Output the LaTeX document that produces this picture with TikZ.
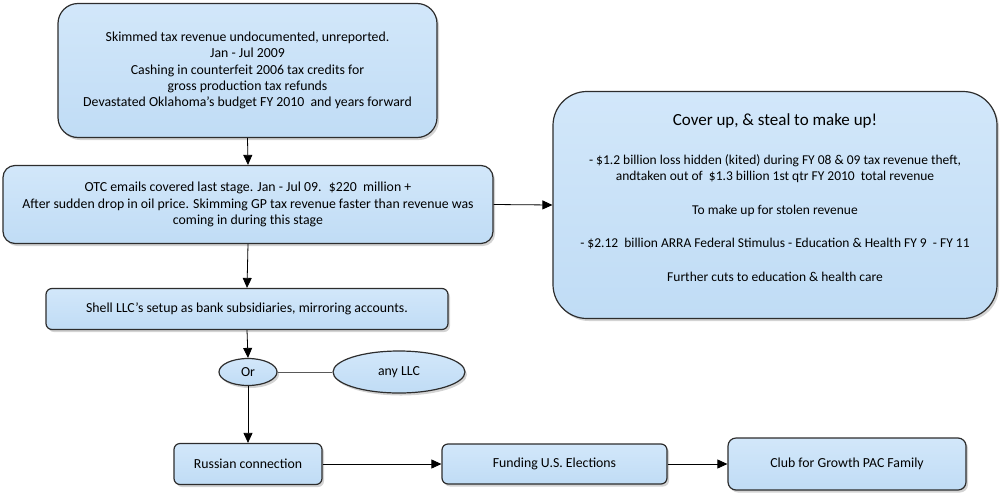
\documentclass[tikz,border=0pt]{standalone}
\usepackage{fontspec}
\setmainfont{Carlito}
\usetikzlibrary{shapes.geometric,shadows,arrows.meta}
\definecolor{boxtop}{RGB}{210,231,250}
\definecolor{boxbot}{RGB}{192,220,245}
\definecolor{boxline}{RGB}{45,45,45}
\tikzset{
  flowbox/.style={draw=boxline, line width=1.2pt, top color=boxtop, bottom color=boxbot,
    align=center, inner sep=2pt, font=\fontsize{13.8}{16.4}\selectfont, text=black,
    drop shadow={shadow xshift=2pt, shadow yshift=-2.5pt, opacity=0.35}},
  flowell/.style={flowbox, ellipse},
  flowarrow/.style={line width=0.8pt, -{Triangle[length=10pt,width=9pt]}},
  plainline/.style={line width=0.8pt, draw=black!65}
}
\begin{document}
\begin{tikzpicture}[x=1pt,y=-1pt]
\useasboundingbox (0,0) rectangle (1000,493);
\node[flowbox, rounded corners=20pt, minimum width=379pt, minimum height=134pt] (b1) at (247.5,70.5)
  {Skimmed tax revenue undocumented, unreported.\\
   Jan - Jul 2009\\
   Cashing in counterfeit 2006 tax credits for\\
   gross production tax refunds\\
   Devastated Oklahoma's budget FY 2010 \ and years forward};
\node[flowbox, rounded corners=12pt, minimum width=490pt, minimum height=78pt] (b2) at (248,204.5)
  {OTC emails covered last stage. Jan - Jul 09. \ \$220 \ million +\\
   After sudden drop in oil price. Skimming GP tax revenue faster than revenue was\\
   coming in during this stage};
\node[flowbox, rounded corners=6pt, minimum width=402pt, minimum height=41pt] (b3) at (247,309)
  {Shell LLC's setup as bank subsidiaries, mirroring accounts.};
\node[flowell, minimum width=58pt, minimum height=27pt, inner sep=0pt] (or) at (248,372) {Or};
\node[flowell, minimum width=132pt, minimum height=42pt, inner sep=0pt] (llc) at (399,372) {any LLC};
\node[flowbox, rounded corners=6pt, minimum width=148pt, minimum height=41pt] (ru) at (248,464) {Russian connection};
\node[flowbox, rounded corners=6pt, minimum width=225pt, minimum height=40pt] (fu) at (554.5,464) {Funding U.S. Elections};
\node[flowbox, rounded corners=8pt, minimum width=238pt, minimum height=52pt] (cl) at (847,464) {Club for Growth PAC Family};
\node[flowbox, rounded corners=34pt, minimum width=444pt, minimum height=227pt, font=\fontsize{13.5}{15.8}\selectfont] (big) at (775,205)
  {{\fontsize{17}{20}\selectfont Cover up, \& steal to make up!}\\[24pt]
   - \$1.2 billion loss hidden (kited) during FY 08 \& 09 tax revenue theft,\\
   andtaken out of \ \$1.3 billion 1st qtr FY 2010 \ total revenue\\[18pt]
   To make up for stolen revenue\\[17pt]
   - \$2.12 \ billion ARRA Federal Stimulus - Education \& Health FY 9 \ - FY 11\\[18pt]
   Further cuts to education \& health care\\[0pt]
   \mbox{}};
\draw[flowarrow] (b1.south) -- (b2.north);
\draw[flowarrow] (b2.south) -- (b3.north);
\draw[flowarrow] (b3.south) -- (or.north);
\draw[flowarrow] (or.south) -- (ru.north);
\draw[plainline] (or.east) -- (llc.west);
\draw[flowarrow] (b2.east) -- (big.west);
\draw[flowarrow] (ru.east) -- (fu.west);
\draw[flowarrow] (fu.east) -- (cl.west);
\end{tikzpicture}
\end{document}
